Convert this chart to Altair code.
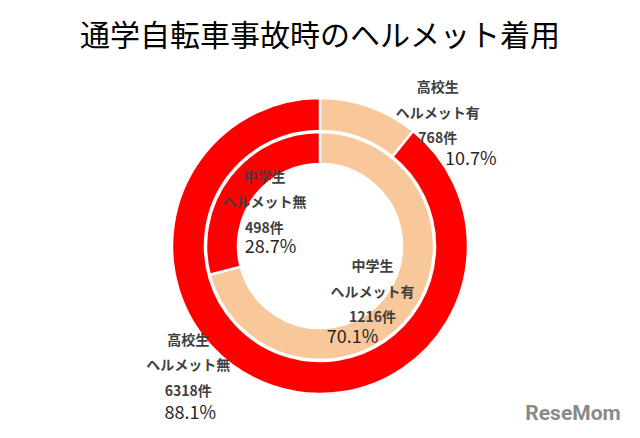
import altair as alt
import pandas as pd

# ---- data ----
title_text = "通学自転車事故時のヘルメット着用"
categories = ["ヘルメット有", "ヘルメット無"]
groups = ["高校生", "中学生"]
high_counts = [768, 6318]
high_pcts = ["10.7%", "88.1%"]
mid_counts = [1216, 498]
mid_pcts = ["70.1%", "28.7%"]

FONT = "Noto Sans CJK JP"
PEACH = "#F9C89A"
RED = "#FF0000"


def ring_df(group, counts, pcts):
    return pd.DataFrame({
        "group": group,
        "cat": categories,
        "count": counts,
        "pct": pcts,
        "idx": list(range(len(categories))),
        "label": [f"{group}\n{c}\n{n}件" for c, n in zip(categories, counts)],
    })


outer = ring_df(groups[0], high_counts, high_pcts)
inner = ring_df(groups[1], mid_counts, mid_pcts)

theta = alt.Theta("count:Q", stack="normalize")
color = alt.Color("cat:N", scale=alt.Scale(domain=categories, range=[PEACH, RED]), legend=None)
order = alt.Order("idx:Q")

outer_arc = alt.Chart(outer).mark_arc(
    radius=148, radius2=115, stroke="white", strokeWidth=2.5
).encode(theta=theta, color=color, order=order)

inner_arc = alt.Chart(inner).mark_arc(
    radius=114, radius2=82, stroke="white", strokeWidth=2.5
).encode(theta=theta, color=color, order=order)

# label offsets (from slice mid-angle anchor): (ring, idx) -> (radius, block dx, dy, pct dx, dy)
LH = 25.5
offsets = {
    ("outer", 0): (131, 74, -9 - LH, 107, 37),
    ("outer", 1): (131, -88, -3 - LH, -86, 45),
    ("inner", 0): (98, -25, -13 - LH, -45, 32),
    ("inner", 1): (98, 22, 17 - LH, 28, 62),
}

layers = [outer_arc, inner_arc]
for ring_name, df in (("outer", outer), ("inner", inner)):
    for i in range(len(categories)):
        r, bdx, bdy, pdx, pdy = offsets[(ring_name, i)]
        block = alt.Chart(df).transform_calculate(
            t=f"datum.idx == {i} ? datum.label : ''"
        ).mark_text(
            radius=r, dx=bdx, dy=bdy, lineBreak="\n", lineHeight=LH,
            font=FONT, fontSize=14, fontWeight="bold", color="#404040",
            align="center", baseline="middle",
        ).encode(theta=theta, text="t:N", detail="cat:N", order=order)
        pct = alt.Chart(df).transform_calculate(
            t=f"datum.idx == {i} ? datum.pct : ''"
        ).mark_text(
            radius=r, dx=pdx, dy=pdy,
            font=FONT, fontSize=18, color="#262626",
            align="center", baseline="middle",
        ).encode(theta=theta, text="t:N", detail="cat:N", order=order)
        layers += [block, pct]

title = alt.Chart(pd.DataFrame({"t": [title_text]})).mark_text(
    font=FONT, fontSize=30, color="#000000", align="center", baseline="middle",
).encode(x=alt.value(312), y=alt.value(-19), text="t:N")
layers.append(title)

watermark = alt.Chart(pd.DataFrame({"t": ["ReseMom"]})).mark_text(
    font="Roboto", fontSize=21, fontWeight="bold", color="#8a8a8a",
    align="center", baseline="middle",
).encode(x=alt.value(565), y=alt.value(358), text="t:N")
layers.append(watermark)

chart = alt.layer(*layers).properties(
    width=624,
    height=380,
    background="white",
    padding={"top": 48, "left": 0, "right": 0, "bottom": 0},
    autosize=alt.AutoSizeParams(type="none"),
).configure_view(stroke=None)

chart.save("out.html", embed_options={"renderer": "svg", "actions": False})
